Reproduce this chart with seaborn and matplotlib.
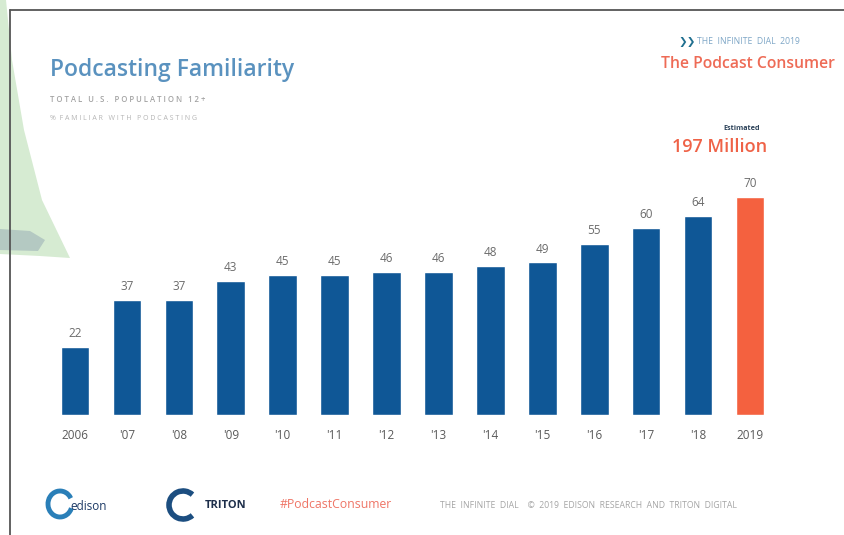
import matplotlib
matplotlib.use("Agg")
import matplotlib.pyplot as plt
import seaborn as sns
import pandas as pd
from matplotlib.patches import Polygon, Arc
from matplotlib.lines import Line2D

# ---- data ----
years = ["2006", "'07", "'08", "'09", "'10", "'11", "'12", "'13", "'14", "'15", "'16", "'17", "'18", "2019"]
familiar_pct = [22, 37, 37, 43, 45, 45, 46, 46, 48, 49, 55, 60, 64, 70]
bar_colors = ["#0f5796"] * 13 + ["#f4613f"]

sns.set_theme(style="white")
plt.rcParams['font.family'] = ['Open Sans', 'DejaVu Sans']

W, H = 844, 535
fig = plt.figure(figsize=(W / 100, H / 100), dpi=100)
fig.patch.set_facecolor("white")

def fx(x):
    return x / W

def fy(y):
    return 1 - y / H

# background decoration (green crescent on the left)
green = Polygon([(fx(0), fy(0)), (fx(6), fy(0)), (fx(12), fy(60)), (fx(24), fy(130)),
                 (fx(42), fy(200)), (fx(70), fy(258)), (fx(40), fy(256)), (fx(0), fy(254))],
                closed=True, transform=fig.transFigure, facecolor="#d6ebd2", edgecolor="none", zorder=0)
fig.patches.append(green)
band = Polygon([(fx(0), fy(229)), (fx(30), fy(231)), (fx(45), fy(240)), (fx(38), fy(251)), (fx(0), fy(250))],
               closed=True, transform=fig.transFigure, facecolor="#b4c9c2", edgecolor="none", zorder=0)
fig.patches.append(band)

# slide border (top and left)
fig.add_artist(Line2D([fx(10), fx(844)], [fy(10), fy(10)], transform=fig.transFigure, color="#555555", lw=1.3))
fig.add_artist(Line2D([fx(10), fx(10)], [fy(10), fy(535)], transform=fig.transFigure, color="#555555", lw=1.3))

# ---- chart ----
ax = fig.add_axes([fx(49), fy(415), (776 - 49) / W, 249 / H])
df = pd.DataFrame({"year": years, "pct": familiar_pct})
sns.barplot(data=df, x="year", y="pct", hue="year", palette=bar_colors, legend=False,
            order=years, width=0.55, saturation=1, ax=ax)
ax.set_xlim(-0.5, len(years) - 0.5)
ax.set_ylim(0, 80)
ax.set_xlabel("")
ax.set_ylabel("")
ax.set_yticks([])
for s in ax.spines.values():
    s.set_visible(False)
ax.set_facecolor("none")
ax.tick_params(axis="x", length=0, pad=10, labelsize=8.5, labelcolor="#5a5a5a")
for c in ax.containers:
    ax.bar_label(c, padding=5, fontsize=8.5, color="#6b6b6b")

# ---- header texts ----
fig.text(fx(50), fy(70), "Podcasting Familiarity", fontsize=16.5, color="#5a92bf",
         fontweight="semibold", va="center", ha="left")
fig.text(fx(50), fy(100), "T O T A L   U . S .   P O P U L A T I O N   1 2 +", fontsize=5.6,
         color="#a3a3a3", fontweight="semibold", va="center", ha="left")
fig.text(fx(50), fy(119), "%  F A M I L I A R   W I T H   P O D C A S T I N G", fontsize=5,
         color="#b5b5b5", va="center", ha="left")

fig.text(fx(678), fy(42), "❯❯", fontsize=7.5, color="#1f6f8f", va="center", ha="left", family=['DejaVu Sans'])
fig.text(fx(697), fy(42), "THE  INFINITE  DIAL  2019", fontsize=6.2, color="#7fa7c7", va="center", ha="left")
fig.text(fx(835), fy(64), "The Podcast Consumer", fontsize=11.3, color="#ee6b56",
         fontweight="semibold", va="center", ha="right")

fig.text(fx(742), fy(128), "Estimated", fontsize=5.2, color="#2d435a", fontweight="bold",
         va="center", ha="center")
fig.text(fx(767), fy(147), "197 Million", fontsize=13, color="#ef6247", fontweight="semibold",
         va="center", ha="right")

# ---- footer ----
fig.add_artist(Arc((fx(60), fy(504)), 24 / W, 26 / H, theta1=40, theta2=330,
                   transform=fig.transFigure, color="#2a7fb8", lw=3.5))
fig.text(fx(70), fy(507), "edison", fontsize=8.5, color="#1d3a66", va="center", ha="left")
fig.add_artist(Arc((fx(183), fy(505)), 28 / W, 28 / H, theta1=60, theta2=300,
                   transform=fig.transFigure, color="#1c4e80", lw=4))
fig.text(fx(205), fy(505), "TRITON", fontsize=8, color="#1d2e4a", fontweight="bold",
         va="center", ha="left", fontstretch="condensed")
fig.text(fx(280), fy(505), "#PodcastConsumer", fontsize=8.8, color="#ef7566",
         va="center", ha="left")
fig.text(fx(440), fy(505), "THE  INFINITE  DIAL    ©  2019  EDISON  RESEARCH  AND  TRITON  DIGITAL",
         fontsize=6.2, color="#a5a5a5", va="center", ha="left")

fig.savefig("out.png", dpi=100)
